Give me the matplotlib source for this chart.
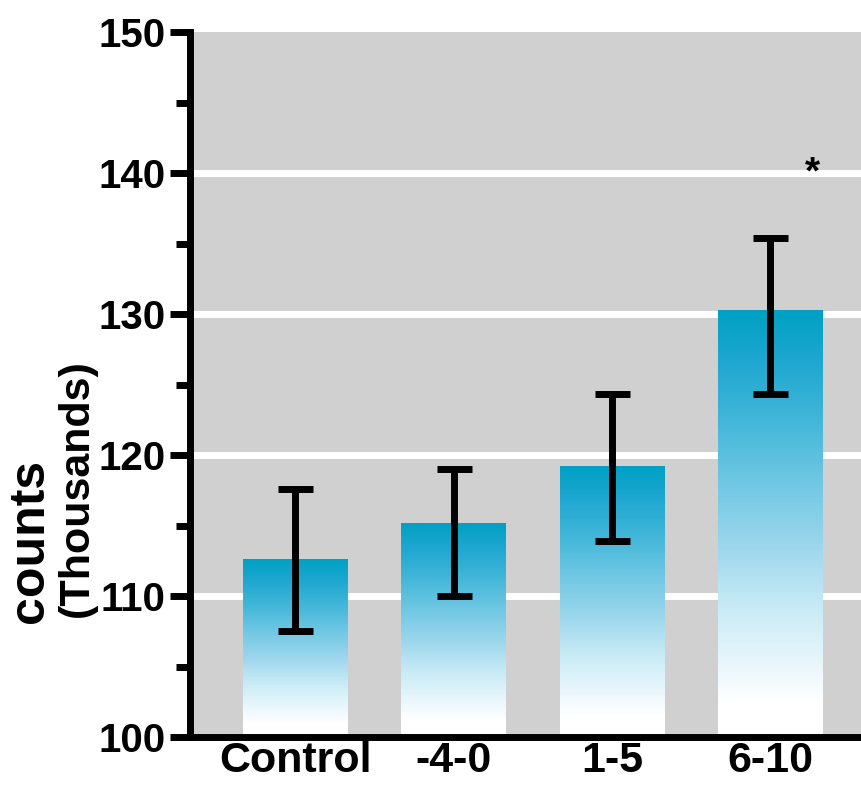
import numpy as np
import matplotlib
matplotlib.use("Agg")
import matplotlib.pyplot as plt
from matplotlib.colors import LinearSegmentedColormap
from matplotlib.ticker import MultipleLocator

# data
groups = ["Control", "-4-0", "1-5", "6-10"]
means = [112.6, 115.2, 119.2, 130.3]
err_low = [107.5, 110.0, 113.9, 124.3]
err_high = [117.6, 119.0, 124.3, 135.4]
significant = [False, False, False, True]
y_ticks = [100, 110, 120, 130, 140, 150]
grid_levels = [110, 120, 130, 140]

font = ["Liberation Sans", "DejaVu Sans"]

fig = plt.figure(figsize=(8.62, 7.85), dpi=100)
ax = fig.add_axes([190 / 862, 1 - 737 / 785, 1 - 190 / 862, (737 - 32) / 785])
ax.set_facecolor("#d0d0d0")

x = np.arange(len(groups))
width = 0.66
ax.set_xlim(-0.665, 3.58)
ax.set_ylim(100, 150)

for lvl in grid_levels:
    ax.axhline(lvl, color="white", lw=5, zorder=1)

# gradient bars: teal on top fading to white at the base
cmap = LinearSegmentedColormap.from_list("fade", [
    (0.0, "#ffffff"), (0.08, "#ffffff"), (0.15, "#eef8fd"), (0.3, "#c9ebf6"),
    (0.45, "#9bd6ec"), (0.6, "#6ec7e3"), (0.75, "#40b5d8"), (0.88, "#1ea7d0"),
    (1.0, "#00a0c4")])
grad = np.linspace(0, 1, 256).reshape(-1, 1)
bars = ax.bar(x, np.array(means) - 100, width, bottom=100, color="none", zorder=2)
for b in bars:
    x0, y0 = b.get_x(), b.get_y()
    im = ax.imshow(grad, cmap=cmap, origin="lower", aspect="auto", zorder=2,
                   extent=[x0, x0 + b.get_width(), y0, y0 + b.get_height()])
    im.set_clip_path(b)

yerr = [np.array(means) - np.array(err_low), np.array(err_high) - np.array(means)]
ax.errorbar(x, means, yerr=yerr, fmt="none", ecolor="black", elinewidth=5,
            capsize=12.6, capthick=5, zorder=3)

for i, sig in enumerate(significant):
    if sig:
        ax.text(i + 0.27, err_high[i] + 4.6, "*", ha="center", va="center",
                fontsize=28, fontweight="bold", family=font, zorder=4)

for side in ["top", "right"]:
    ax.spines[side].set_visible(False)
for side in ["left", "bottom"]:
    ax.spines[side].set_linewidth(5)
    ax.spines[side].set_color("black")

ax.set_xticks(x)
ax.set_xticklabels(groups, family=font, fontweight="bold", fontsize=31)
ax.tick_params(axis="x", length=0, pad=3)

ax.set_yticks(y_ticks)
ax.set_yticklabels([str(t) for t in y_ticks], family=font, fontweight="bold", fontsize=29)
ax.yaxis.set_minor_locator(MultipleLocator(5))
ax.tick_params(axis="y", which="major", length=14.4, width=5, pad=3)
ax.tick_params(axis="y", which="minor", length=10, width=5)

fig.text(43 / 862, 1 - 623 / 785, "counts", rotation=90, rotation_mode="anchor",
         ha="left", va="baseline", fontsize=36, fontweight="bold", family=font)
fig.text(88 / 862, 1 - 617 / 785, "(Thousands)", rotation=90, rotation_mode="anchor",
         ha="left", va="baseline", fontsize=31, fontweight="bold", family=font)

fig.savefig("out.png", dpi=100)
